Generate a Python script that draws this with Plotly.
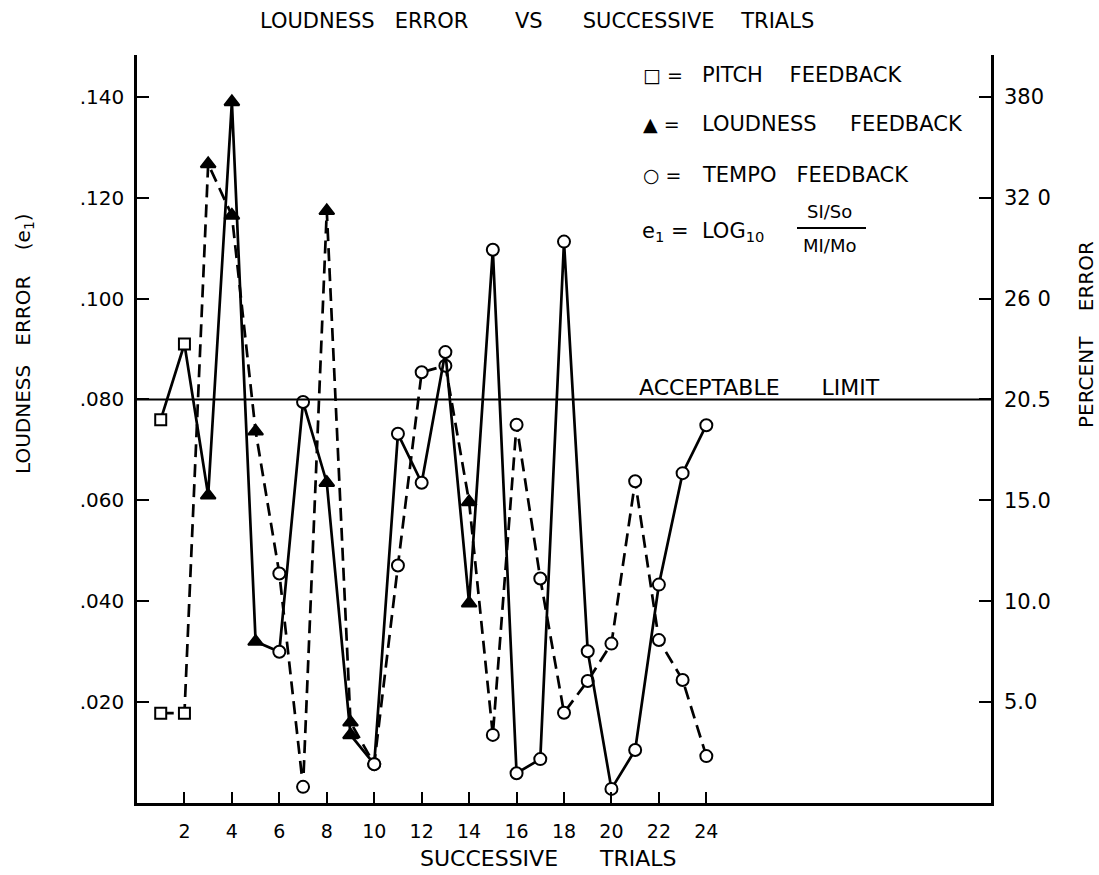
import plotly.graph_objects as go

# ---------------- data ----------------
trials = [1, 2, 3, 4, 5, 6, 7, 8, 9, 10, 11, 12, 13, 14, 15, 16, 17, 18, 19, 20, 21, 22, 23, 24]

# feedback condition for each trial (defines the marker)
feedback = ["pitch", "pitch", "loudness", "loudness", "loudness", "tempo", "tempo",
            "loudness", "loudness", "tempo", "tempo", "tempo", "tempo", "loudness",
            "tempo", "tempo", "tempo", "tempo", "tempo", "tempo", "tempo", "tempo",
            "tempo", "tempo"]

# solid-line subject
solid_error = [0.076, 0.091, 0.061, 0.139, 0.032, 0.030, 0.0795, 0.0635, 0.0135, 0.0077,
               0.0732, 0.0635, 0.0894, 0.0396, 0.1097, 0.0059, 0.0087, 0.1113, 0.0301,
               0.0028, 0.0105, 0.0433, 0.0654, 0.0749]

# dashed-line subject
dashed_error = [0.0178, 0.0178, 0.1267, 0.1165, 0.0737, 0.0455, 0.0032, 0.1174, 0.0160,
                0.0077, 0.0471, 0.0854, 0.0867, 0.0597, 0.0135, 0.0750, 0.0445, 0.0179,
                0.0242, 0.0316, 0.0638, 0.0323, 0.0244, 0.0093]

acceptable_limit = 0.080

x_ticks = [2, 4, 6, 8, 10, 12, 14, 16, 18, 20, 22, 24]
y_ticks = [0.020, 0.040, 0.060, 0.080, 0.100, 0.120, 0.140]
y_left_labels = [".020", ".040", ".060", ".080", ".100", ".120", ".140"]
y_right_labels = ["5.0", "10.0", "15.0", "20.5", "26 0", "32 0", "380"]

# ---------------- styling ----------------
FONT = "DejaVu Sans"
W, H = 1099, 875
L, R, T, B = 137, 108, 55, 72
X_RANGE = [0, 36]
Y_RANGE = [0, 0.1483]

symbol_map = {"pitch": "square", "loudness": "triangle-up", "tempo": "circle"}
fill_map = {"pitch": "white", "loudness": "black", "tempo": "white"}
size_map = {"pitch": 11, "loudness": 13, "tempo": 12}

symbols = [symbol_map[f] for f in feedback]
fills = [fill_map[f] for f in feedback]
sizes = [size_map[f] for f in feedback]


def px(x):
    return (x - L) / (W - L - R)


def py(y):
    return (H - B - y) / (H - T - B)


fig = go.Figure()

for vals, dash in [(dashed_error, "13px,7px"), (solid_error, "solid")]:
    fig.add_trace(go.Scatter(
        x=trials, y=vals, mode="lines+markers",
        line=dict(color="black", width=2.7, dash=dash),
        marker=dict(symbol=symbols, color=fills, size=sizes, opacity=1,
                    line=dict(color="black", width=2)),
        showlegend=False, hoverinfo="skip",
    ))

# invisible trace to host the right-hand axis
fig.add_trace(go.Scatter(x=[None], y=[None], yaxis="y2", showlegend=False,
                         hoverinfo="skip"))

# acceptable limit line
fig.add_shape(type="line", xref="paper", x0=0, x1=1, yref="y",
              y0=acceptable_limit, y1=acceptable_limit,
              line=dict(color="black", width=2))

tick_font = dict(family=FONT, size=20, color="black")

fig.update_layout(
    width=W, height=H,
    margin=dict(l=L, r=R, t=T, b=B),
    paper_bgcolor="white", plot_bgcolor="white",
    xaxis=dict(range=X_RANGE, tickvals=x_ticks, ticktext=[str(v) for v in x_ticks],
               showline=True, linecolor="black", linewidth=2.6,
               ticks="inside", ticklen=11, tickwidth=2, tickcolor="black",
               showgrid=False, zeroline=False,
               tickfont=dict(family=FONT, size=19, color="black"),
               ticklabelstandoff=9),
    yaxis=dict(range=Y_RANGE, tickvals=y_ticks, ticktext=y_left_labels,
               showline=True, linecolor="black", linewidth=2.6,
               ticks="inside", ticklen=12, tickwidth=2, tickcolor="black",
               showgrid=False, zeroline=False, tickfont=tick_font,
               ticklabelstandoff=6),
    yaxis2=dict(range=Y_RANGE, overlaying="y", side="right", anchor="x",
                tickvals=y_ticks, ticktext=y_right_labels,
                showline=True, linecolor="black", linewidth=2.6,
                ticks="inside", ticklen=12, tickwidth=2, tickcolor="black",
                showgrid=False, zeroline=False,
                tickfont=dict(family=FONT, size=21, color="black"),
                ticklabelstandoff=6),
)

NB = "\u00a0"


def ann(text, x, y, size=21, xanchor="center", yanchor="middle", angle=0):
    fig.add_annotation(text=text, x=px(x), y=py(y), xref="paper", yref="paper",
                       showarrow=False, xanchor=xanchor, yanchor=yanchor,
                       textangle=angle,
                       font=dict(family=FONT, size=size, color="black"))


# title
ann("LOUDNESS" + NB * 3 + "ERROR" + NB * 7 + "VS" + NB * 6 + "SUCCESSIVE" + NB * 4 + "TRIALS",
    537, 21, size=21)
# axis titles
ann("SUCCESSIVE" + NB * 6 + "TRIALS", 548, 858, size=22)
ann("LOUDNESS" + NB * 3 + "ERROR" + NB * 4 + "(e<sub>1</sub>)", 24, 344, size=20, angle=-90)
ann("PERCENT" + NB * 4 + "ERROR", 1086, 335, size=20, angle=-90)

# key
ann("□" + NB + "=", 641, 75, size=19, xanchor="left")
ann("PITCH" + NB * 4 + "FEEDBACK", 700, 75, size=21, xanchor="left")
ann("▲" + NB + "=", 641, 124, size=19, xanchor="left")
ann("LOUDNESS" + NB * 5 + "FEEDBACK", 700, 124, size=21, xanchor="left")
ann("○" + NB + "=", 641, 175, size=19, xanchor="left")
ann("TEMPO" + NB * 3 + "FEEDBACK", 700, 175, size=21, xanchor="left")
ann("e<sub>1</sub>" + NB + "=" + NB * 2 + "LOG<sub>10</sub>", 640, 232, size=21, xanchor="left")
ann("SI/So", 829, 212, size=18)
ann("MI/Mo", 829, 245, size=18)
fig.add_shape(type="line", xref="paper", yref="paper",
              x0=px(797), x1=px(866), y0=py(228), y1=py(228),
              line=dict(color="black", width=2))

# acceptable limit label
ann("ACCEPTABLE" + NB * 6 + "LIMIT", 637, 387, size=22, xanchor="left")

fig.write_html("out.html", config={"displayModeBar": False},
               post_script="document.body.style.margin='0';")
